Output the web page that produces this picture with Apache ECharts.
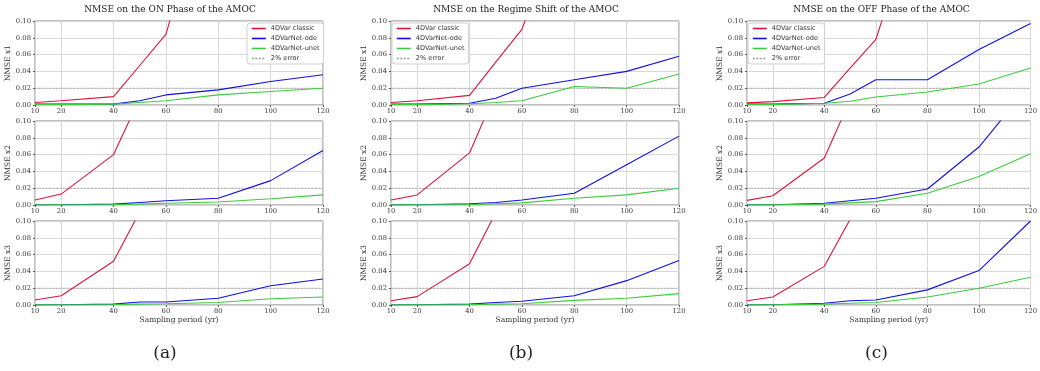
<!DOCTYPE html>
<html>
<head>
<meta charset="utf-8">
<script src="https://cdn.jsdelivr.net/npm/echarts@6/dist/echarts.min.js"></script>
<style>
  html, body { margin: 0; padding: 0; background: #fff; }
  #chart { width: 1040px; height: 371px; }
</style>
</head>
<body>
<div id="chart"></div>
<script>
const periods = [10, 20, 40, 50, 60, 80, 100, 120];
const xTicks = [10, 20, 40, 60, 80, 100, 120];
const panelTitles = ['NMSE on the ON Phase of the AMOC', 'NMSE on the Regime Shift of the AMOC', 'NMSE on the OFF Phase of the AMOC'];
const captions = ['(a)', '(b)', '(c)'];
const rowNames = ['NMSE x1', 'NMSE x2', 'NMSE x3'];
const methods = ['4DVar classic', '4DVarNet-ode', '4DVarNet-unet'];
const errorName = '2% error';
const errorLevel = 0.02;

// each array: rows x1, x2, x3 ; values at the sampling periods
const onClassic = [
  [0.003, 0.005, 0.010, 0.047, 0.084, 0.30, 0.50, 0.70],
  [0.006, 0.013, 0.060, 0.127, 0.19, 0.35, 0.50, 0.70],
  [0.006, 0.011, 0.052, 0.111, 0.17, 0.30, 0.45, 0.60]
];
const onOde = [
  [0.001, 0.001, 0.001, 0.005, 0.012, 0.018, 0.028, 0.036],
  [0.0002, 0.0003, 0.001, 0.003, 0.005, 0.008, 0.029, 0.065],
  [0.0002, 0.0003, 0.001, 0.0035, 0.0035, 0.008, 0.023, 0.031]
];
const onUnet = [
  [0.0005, 0.0005, 0.001, 0.003, 0.005, 0.012, 0.016, 0.020],
  [0.0001, 0.0002, 0.0005, 0.001, 0.002, 0.0035, 0.0075, 0.012],
  [0.0001, 0.0002, 0.0005, 0.001, 0.0015, 0.003, 0.0075, 0.0095]
];
const shiftClassic = [
  [0.003, 0.005, 0.0115, 0.051, 0.090, 0.26, 0.45, 0.65],
  [0.006, 0.012, 0.062, 0.134, 0.20, 0.35, 0.50, 0.70],
  [0.005, 0.010, 0.049, 0.110, 0.17, 0.30, 0.45, 0.60]
];
const shiftOde = [
  [0.001, 0.001, 0.002, 0.008, 0.020, 0.030, 0.040, 0.058],
  [0.0002, 0.0003, 0.0015, 0.003, 0.006, 0.014, 0.048, 0.082],
  [0.0002, 0.0003, 0.001, 0.003, 0.0045, 0.011, 0.029, 0.053]
];
const shiftUnet = [
  [0.0005, 0.0005, 0.0015, 0.003, 0.005, 0.022, 0.020, 0.037],
  [0.0001, 0.0002, 0.0005, 0.0015, 0.0025, 0.008, 0.012, 0.020],
  [0.0001, 0.0002, 0.0005, 0.001, 0.0015, 0.0055, 0.008, 0.0135]
];
const offClassic = [
  [0.0025, 0.004, 0.009, 0.044, 0.078, 0.27, 0.45, 0.65],
  [0.0055, 0.011, 0.056, 0.125, 0.19, 0.35, 0.50, 0.70],
  [0.005, 0.0095, 0.046, 0.102, 0.16, 0.30, 0.45, 0.60]
];
const offOde = [
  [0.001, 0.001, 0.002, 0.013, 0.030, 0.030, 0.066, 0.097],
  [0.0002, 0.0003, 0.002, 0.005, 0.008, 0.019, 0.069, 0.144],
  [0.0002, 0.0003, 0.002, 0.005, 0.006, 0.018, 0.041, 0.100]
];
const offUnet = [
  [0.0005, 0.0005, 0.002, 0.0045, 0.0095, 0.0155, 0.025, 0.044],
  [0.0001, 0.0002, 0.001, 0.0025, 0.004, 0.014, 0.034, 0.061],
  [0.0001, 0.0002, 0.001, 0.002, 0.003, 0.0095, 0.020, 0.033]
];

const panels = [
  [onClassic, onOde, onUnet],
  [shiftClassic, shiftOde, shiftUnet],
  [offClassic, offOde, offUnet]
];

const methodColors = ['#dc143c', '#1010e0', '#3ccb3c'];
const serif = '"DejaVu Serif", serif';
const sans = '"DejaVu Sans", sans-serif';

const gridLefts = [35, 391, 747];
const gridWidths = [288, 288, 287];
const gridTops = [21, 121, 221];
const gridHeight = 84;
const legendLefts = [247, 392, 748];

const chart = echarts.init(document.getElementById('chart'), null, { renderer: 'canvas' });

const grids = [];
const xAxes = [];
const yAxes = [];
const series = [];
const graphics = [];

panels.forEach((panel, col) => {
  rowNames.forEach((rowName, row) => {
    const idx = grids.length;
    grids.push({
      left: gridLefts[col],
      top: gridTops[row],
      width: gridWidths[col],
      height: gridHeight,
      show: true,
      borderColor: '#808080',
      borderWidth: 1,
      backgroundColor: 'transparent'
    });
    xAxes.push({
      type: 'value',
      gridIndex: idx,
      min: 10,
      max: 120,
      name: row === 2 ? 'Sampling period (yr)' : '',
      nameLocation: 'middle',
      nameGap: 10,
      nameTextStyle: { fontFamily: serif, fontSize: 7.5, color: '#333' },
      axisLine: { show: false },
      axisTick: { show: true, length: 2, customValues: xTicks, lineStyle: { color: '#555' } },
      axisLabel: { customValues: xTicks, fontFamily: serif, fontSize: 6.8, color: '#333', margin: 3 },
      splitLine: { show: true, lineStyle: { color: '#d8d8d8', width: 1 } }
    });
    yAxes.push({
      type: 'value',
      gridIndex: idx,
      min: 0,
      max: 0.1,
      interval: 0.02,
      name: rowName,
      nameLocation: 'middle',
      nameGap: 17,
      nameTextStyle: { fontFamily: serif, fontSize: 7.5, color: '#333' },
      axisLine: { show: false },
      axisTick: { show: true, length: 2, lineStyle: { color: '#555' } },
      axisLabel: { fontFamily: serif, fontSize: 6.8, color: '#333', margin: 4, formatter: v => v.toFixed(2) },
      splitLine: { show: true, lineStyle: { color: '#d8d8d8', width: 1 } }
    });
    methods.forEach((name, m) => {
      series.push({
        name,
        type: 'line',
        xAxisIndex: idx,
        yAxisIndex: idx,
        symbol: 'none',
        clip: true,
        lineStyle: { color: methodColors[m], width: 1.1 },
        itemStyle: { color: methodColors[m] },
        data: periods.map((p, i) => [p, panel[m][row][i]])
      });
    });
    series.push({
      name: errorName,
      type: 'line',
      xAxisIndex: idx,
      yAxisIndex: idx,
      symbol: 'none',
      z: 1,
      lineStyle: { color: '#9a9a9a', width: 0.7, type: [2, 1.5] },
      itemStyle: { color: '#9a9a9a' },
      data: [[10, errorLevel], [120, errorLevel]]
    });
  });
  graphics.push({
    type: 'text',
    x: gridLefts[col] + gridWidths[col] / 2 - 9,
    y: 10,
    style: { text: panelTitles[col], fontFamily: serif, fontSize: 9, fill: '#222', align: 'center', verticalAlign: 'middle' }
  });
  graphics.push({
    type: 'text',
    x: gridLefts[col] + gridWidths[col] / 2 - 14,
    y: 354,
    style: { text: captions[col], fontFamily: serif, fontSize: 17, fill: '#222', align: 'center', verticalAlign: 'middle' }
  });
});

const legends = legendLefts.map(left => ({
  left,
  top: 23,
  orient: 'vertical',
  data: methods.concat([errorName]),
  itemWidth: 14,
  itemHeight: 7,
  itemGap: 3,
  padding: [2, 4, 2, 4],
  backgroundColor: '#fff',
  borderColor: '#cfcfcf',
  borderWidth: 1,
  borderRadius: 3,
  itemStyle: { opacity: 0 },
  lineStyle: { width: 1.6 },
  textStyle: { fontFamily: sans, fontSize: 6.6, color: '#333' }
}));

chart.setOption({
  backgroundColor: '#fff',
  animation: false,
  grid: grids,
  xAxis: xAxes,
  yAxis: yAxes,
  legend: legends,
  series,
  graphic: graphics
});

window.addEventListener('resize', () => chart.resize());
</script>
</body>
</html>
